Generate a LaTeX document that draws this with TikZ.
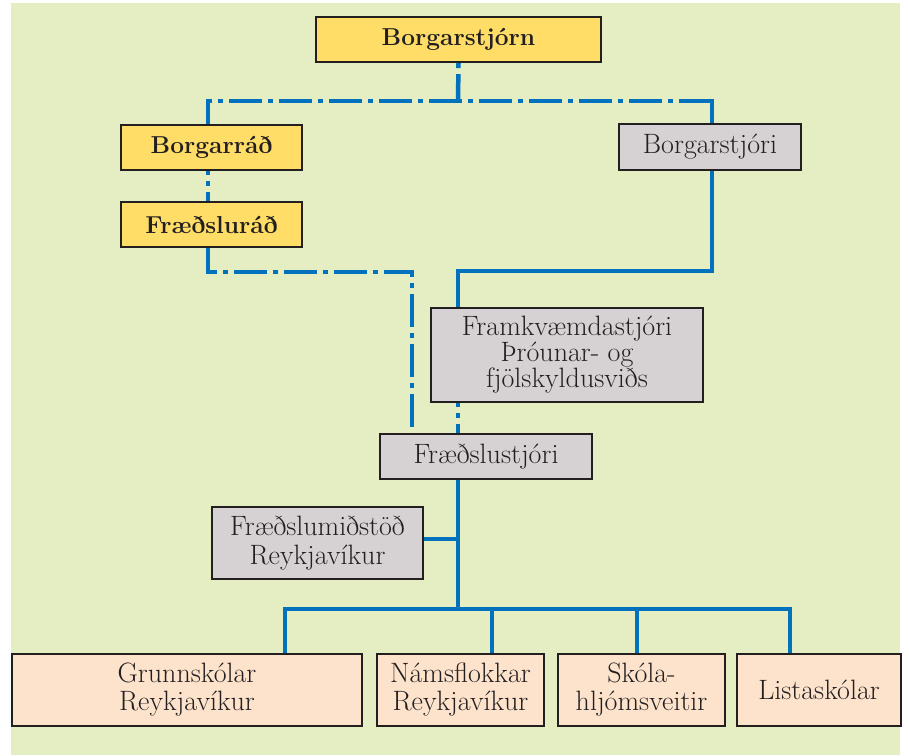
\documentclass[tikz,border=0pt]{standalone}
\usepackage{fontspec}
\usetikzlibrary{calc}
\definecolor{bgG}{HTML}{E5EEC3}
\definecolor{lineB}{HTML}{0071BC}
\definecolor{boxY}{HTML}{FFDD66}
\definecolor{boxG}{HTML}{D6D1D2}
\definecolor{boxP}{HTML}{FDE3CB}
\definecolor{ink}{HTML}{231F20}
\pgfdeclarelayer{back}\pgfdeclarelayer{lines}\pgfsetlayers{back,lines,main}
\begin{document}
\begin{tikzpicture}[x=1pt,y=-1pt,
 box/.style={draw=ink,line width=2.2pt,text=ink,inner sep=0pt,align=center,font=\fontsize{28}{26}\selectfont},
 ybox/.style={box,fill=boxY,font=\fontsize{24.5}{25}\selectfont\bfseries},
 gbox/.style={box,fill=boxG},
 pbox/.style={box,fill=boxP,font=\fontsize{28}{28}\selectfont},
 solidline/.style={draw=lineB,line width=4.5pt},
 ddline/.style={solidline,dash pattern=on 33pt off 6pt on 5pt off 6pt}]
\useasboundingbox (0,0) rectangle (909,755);
\begin{pgfonlayer}{back}
\fill[bgG] (11,3) rectangle (900,755);
\end{pgfonlayer}
% nodes
\node[ybox,minimum width=285pt,minimum height=45pt] (bstjorn) at (458.5,39.5) {Borgarstjórn};
\node[ybox,minimum width=181pt,minimum height=45pt] (brad) at (211.5,147.5) {Borgarráð};
\node[ybox,minimum width=181pt,minimum height=45pt] (frad) at (211.5,224.5) {Fræðsluráð};
\node[gbox,minimum width=182pt,minimum height=46pt] (bstjori) at (710,147) {Borgarstjóri};
\node[gbox,minimum width=272pt,minimum height=94pt] (framk) at (567,355) {Framkvæmdastjóri\\Þróunar- og\\fjölskyldusviðs};
\node[gbox,minimum width=212pt,minimum height=45pt] (fstj) at (486,456.5) {Fræðslustjóri};
\node[gbox,minimum width=211pt,minimum height=72pt,font=\fontsize{28}{29}\selectfont] (fmid) at (317.5,543) {Fræðslumiðstöð\\Reykjavíkur};
\node[pbox,minimum width=350pt,minimum height=72pt] (gs) at (187,690) {Grunnskólar\\Reykjavíkur};
\node[pbox,minimum width=167pt,minimum height=72pt] (nf) at (460.5,690) {Námsflokkar\\Reykjavíkur};
\node[pbox,minimum width=167pt,minimum height=72pt] (sh) at (641.5,690) {Skóla-\\hljómsveitir};
\node[pbox,minimum width=164pt,minimum height=72pt] (ls) at (819,690) {Listaskólar};
% junctions
\coordinate (tl) at (208,101);
\coordinate (tm) at (458,101);
\coordinate (tr) at (712,101);
\coordinate (l1) at (208,272);
\coordinate (l2) at (412,272);
\coordinate (r1) at (712,271);
\coordinate (r2) at (458,271);
\coordinate (b0) at (458,609);
\coordinate (bL) at (285,609);
\coordinate (bR) at (790,609);
\begin{pgfonlayer}{lines}
\draw[ddline,dash phase=39pt] (bstjorn.south) -- (tm);
\draw[ddline] (tr) -- (tl) -- (tl |- brad.north);
\draw[ddline,dash phase=29pt] (tl |- brad.south) -- (tl |- frad.north);
\draw[ddline] (tl |- frad.south) -- (l1) -- (l2) -- (l2 |- fstj.north);
\draw[solidline] ([yshift=2.25pt]tr) -- (tr |- bstjori.north);
\draw[solidline] (tr |- bstjori.south) -- (r1) -- (r2) -- (r2 |- framk.north);
\draw[ddline,dash phase=29pt] (r2 |- framk.south) -- (r2 |- fstj.north);
\draw[solidline] (r2 |- fstj.south) -- (b0);
\draw[solidline] ([yshift=4pt]fmid.east) -- ([yshift=4pt]fmid.east -| b0);
\draw[solidline] (bL |- gs.north) -- (bL) -- (bR) -- (bR |- ls.north);
\draw[solidline] (nf.north -| 492,0) -- (492,609);
\draw[solidline] (sh.north -| 637,0) -- (637,609);
\end{pgfonlayer}
\end{tikzpicture}
\end{document}
